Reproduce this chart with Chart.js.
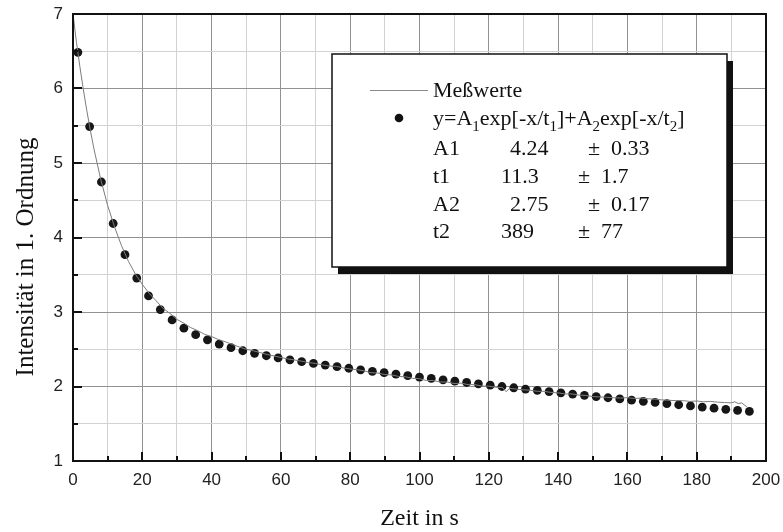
<!DOCTYPE html>
<html>
<head>
<meta charset="utf-8">
<script src="https://cdn.jsdelivr.net/npm/chart.js@4.4.1/dist/chart.umd.min.js"></script>
<style>
  html, body { margin: 0; padding: 0; background: #fff; }
  canvas { display: block; }
</style>
</head>
<body>
<canvas id="myChart" width="783" height="532"></canvas>
<script>
// Meßwerte: Zeit in s / Intensität
const messZeit = [
  0, 1, 2, 3, 4, 5, 6, 7, 8, 10, 12, 14, 16, 18, 20, 22, 24, 26, 28, 30,
  32, 34, 36, 38, 40, 42, 44, 46, 48, 50, 52, 54, 56, 58, 60, 62, 64, 66, 68, 70,
  72, 74, 76, 78, 80, 82, 84, 86, 88, 90, 92, 94, 96, 98, 100, 102, 104, 106, 108, 110,
  112, 114, 116, 118, 120, 122, 124, 125, 126, 128, 130, 132, 134, 136, 138, 140, 142, 144, 146, 148,
  150, 152, 154, 156, 158, 160, 162, 164, 166, 168, 170, 172, 174, 176, 178, 180, 182, 184, 186, 188,
  190, 191, 192, 193, 194.5
];
const messWert = [
  7.00, 6.62, 6.29, 5.98, 5.70, 5.44, 5.20, 4.99, 4.78, 4.43, 4.14, 3.89, 3.68, 3.51, 3.37, 3.25, 3.15, 3.05, 2.98, 2.90,
  2.85, 2.79, 2.75, 2.70, 2.67, 2.63, 2.60, 2.565, 2.53, 2.50, 2.48, 2.455, 2.43, 2.41, 2.39, 2.37, 2.355, 2.34, 2.32, 2.31,
  2.29, 2.275, 2.27, 2.25, 2.235, 2.225, 2.21, 2.185, 2.18, 2.16, 2.155, 2.135, 2.13, 2.11, 2.105, 2.08, 2.08, 2.06, 2.06, 2.04,
  2.045, 2.025, 2.025, 2.005, 2.005, 1.99, 1.985, 1.93, 1.975, 1.965, 1.955, 1.95, 1.935, 1.935, 1.92, 1.915, 1.90, 1.90, 1.885, 1.88,
  1.865, 1.86, 1.855, 1.85, 1.845, 1.85, 1.84, 1.845, 1.835, 1.83, 1.82, 1.815, 1.81, 1.81, 1.80, 1.805, 1.795, 1.80, 1.79, 1.785,
  1.78, 1.795, 1.77, 1.78, 1.725
];

// Fitkurve y=A1exp[-x/t1]+A2exp[-x/t2] an den Stützstellen
const fitZeit = [
  1.4, 4.8, 8.2, 11.6, 15.0, 18.4, 21.8, 25.2, 28.6, 32.0, 35.4, 38.8, 42.2, 45.6, 49.0, 52.4, 55.8, 59.2, 62.6, 66.0,
  69.4, 72.8, 76.2, 79.6, 83.0, 86.4, 89.8, 93.2, 96.6, 100.0, 103.4, 106.8, 110.2, 113.6, 117.0, 120.4, 123.8, 127.2, 130.6, 134.0,
  137.4, 140.8, 144.2, 147.6, 151.0, 154.4, 157.8, 161.2, 164.6, 168.0, 171.4, 174.8, 178.2, 181.6, 185.0, 188.4, 191.8, 195.2
];
const fitWert = [
  6.486, 5.489, 4.745, 4.188, 3.770, 3.455, 3.216, 3.033, 2.893, 2.783, 2.696, 2.626, 2.569, 2.521, 2.480, 2.445, 2.413, 2.384, 2.358, 2.333,
  2.310, 2.287, 2.266, 2.245, 2.224, 2.204, 2.185, 2.165, 2.146, 2.127, 2.109, 2.090, 2.072, 2.054, 2.036, 2.018, 2.000, 1.983, 1.966, 1.949,
  1.932, 1.915, 1.898, 1.882, 1.865, 1.849, 1.833, 1.817, 1.801, 1.786, 1.770, 1.755, 1.739, 1.724, 1.709, 1.694, 1.680, 1.665
];

// Fitparameter für die Legende
const parName = ['A1', 't1', 'A2', 't2'];
const parWert = ['4.24', '11.3', '2.75', '389'];
const parFehler = ['0.33', '1.7', '0.17', '77'];

const SERIF = '"Liberation Serif", "Times New Roman", serif';
const SANS = '"Liberation Sans", Arial, sans-serif';

// Rahmen, nach innen zeigende Ticks, Achsentitel und Legendenkasten
const extras = {
  id: 'extras',
  afterDraw(chart) {
    const ctx = chart.ctx;
    const a = chart.chartArea;
    const xs = chart.scales.x, ys = chart.scales.y;
    ctx.save();

    // Ticks
    ctx.strokeStyle = '#111';
    ctx.lineWidth = 2;
    xs.ticks.forEach(t => {
      const px = Math.round(xs.getPixelForValue(t.value));
      const len = t.value % 20 === 0 ? 9 : 5;
      ctx.beginPath();
      ctx.moveTo(px, a.bottom);
      ctx.lineTo(px, a.bottom - len);
      ctx.stroke();
    });
    ys.ticks.forEach(t => {
      const py = Math.round(ys.getPixelForValue(t.value));
      const len = Number.isInteger(t.value) ? 9 : 5;
      ctx.beginPath();
      ctx.moveTo(a.left, py);
      ctx.lineTo(a.left + len, py);
      ctx.stroke();
    });

    // Rahmen
    ctx.strokeStyle = '#111';
    ctx.lineWidth = 2;
    ctx.strokeRect(a.left, a.top, a.right - a.left, a.bottom - a.top);

    // Achsentitel
    ctx.fillStyle = '#111';
    ctx.font = '24px ' + SERIF;
    ctx.textAlign = 'center';
    ctx.textBaseline = 'alphabetic';
    ctx.fillText('Zeit in s', (a.left + a.right) / 2, 525);
    ctx.save();
    ctx.translate(33, 257);
    ctx.rotate(-Math.PI / 2);
    ctx.font = '25px ' + SERIF;
    ctx.fillText('Intensität in 1. Ordnung', 0, 0);
    ctx.restore();

    // Legendenkasten mit Schatten
    const bx = 332, by = 54, bw = 395, bh = 213;
    ctx.fillStyle = '#111';
    ctx.fillRect(bx + 6, by + 7, bw, bh);
    ctx.fillStyle = '#fff';
    ctx.fillRect(bx, by, bw, bh);
    ctx.strokeStyle = '#111';
    ctx.lineWidth = 1.5;
    ctx.strokeRect(bx, by, bw, bh);

    ctx.textAlign = 'left';
    ctx.fillStyle = '#111';
    const tx = 433;
    // Linie
    ctx.strokeStyle = '#8a8a8a';
    ctx.lineWidth = 1;
    ctx.beginPath();
    ctx.moveTo(370, 90.5);
    ctx.lineTo(428, 90.5);
    ctx.stroke();
    ctx.font = '22px ' + SERIF;
    ctx.fillText('Meßwerte', tx, 97);
    // Punkt
    ctx.beginPath();
    ctx.arc(399, 118, 4.3, 0, Math.PI * 2);
    ctx.fill();
    // Formel mit Indizes
    const teile = [['y=A', 0], ['1', 1], ['exp[-x/t', 0], ['1', 1], [']+A', 0], ['2', 1],
                   ['exp[-x/t', 0], ['2', 1], [']', 0]];
    let x = tx;
    teile.forEach(([s, sub]) => {
      ctx.font = sub ? '15px ' + SERIF : '22px ' + SERIF;
      ctx.fillText(s, x, sub ? 131 : 125);
      x += ctx.measureText(s).width;
    });
    // Parameter
    ctx.font = '22px ' + SERIF;
    parName.forEach((n, i) => {
      const yb = 155 + i * 27.8;
      const kurz = n.startsWith('t');
      ctx.fillText(n, tx, yb);
      ctx.fillText(parWert[i], kurz ? 501 : 510, yb);
      ctx.fillText('±', kurz ? 578 : 588, yb);
      ctx.fillText(parFehler[i], kurz ? 601 : 611, yb);
    });
    ctx.restore();
  }
};

const ctx = document.getElementById('myChart');

const data = {
  datasets: [
    {
      label: 'Meßwerte',
      data: messZeit.map((z, i) => ({ x: z, y: messWert[i] })),
      showLine: true,
      borderColor: '#7c7c7c',
      borderWidth: 1,
      pointRadius: 0,
      tension: 0,
    },
    {
      label: 'Fit',
      data: fitZeit.map((z, i) => ({ x: z, y: fitWert[i] })),
      showLine: false,
      pointRadius: 4.4,
      pointBorderWidth: 0,
      backgroundColor: '#161616',
    }
  ]
};

const config = {
  type: 'scatter',
  data: data,
  options: {
    responsive: false,
    animation: false,
    layout: { padding: { left: 0, right: 17, top: 14, bottom: 0 } },
    plugins: {
      legend: { display: false },
      tooltip: { enabled: false },
    },
    scales: {
      x: {
        type: 'linear',
        min: 0,
        max: 200,
        afterFit: (s) => { s.height = 71; s.paddingLeft = 0; s.paddingRight = 0; },
        ticks: {
          stepSize: 10,
          autoSkip: false,
          maxRotation: 0,
          padding: 9,
          color: '#222',
          font: { family: SANS, size: 17 },
          callback: (v) => (v % 20 === 0 ? v : ''),
        },
        grid: {
          drawTicks: false,
          lineWidth: 1,
          color: (c) => (c.tick && c.tick.value % 20 === 0 ? '#929292' : '#d2d2d2'),
        },
        border: { display: false },
      },
      y: {
        type: 'linear',
        min: 1,
        max: 7,
        afterFit: (s) => { s.width = 73; s.paddingTop = 0; s.paddingBottom = 0; },
        ticks: {
          stepSize: 0.5,
          autoSkip: false,
          padding: 10,
          color: '#222',
          font: { family: SANS, size: 17 },
          callback: (v) => (Number.isInteger(v) ? v : ''),
        },
        grid: {
          drawTicks: false,
          lineWidth: 1,
          color: (c) => (c.tick && Number.isInteger(c.tick.value) ? '#929292' : '#d2d2d2'),
        },
        border: { display: false },
      }
    }
  },
  plugins: [extras],
};

new Chart(ctx, config);
</script>
</body>
</html>
